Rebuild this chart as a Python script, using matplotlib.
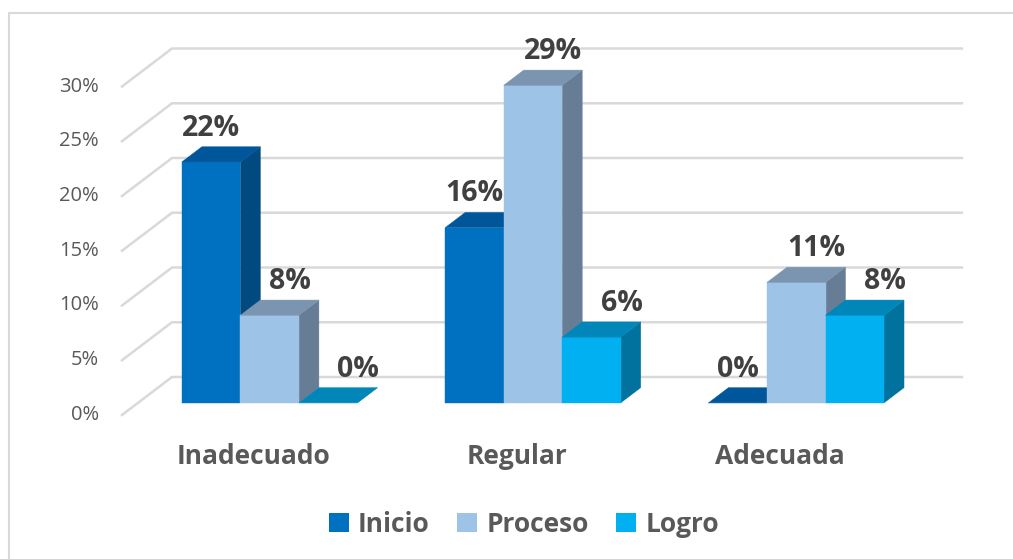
import matplotlib.pyplot as plt
from matplotlib.patches import Polygon, Rectangle

categorias = ['Inadecuado', 'Regular', 'Adecuada']
series = ['Inicio', 'Proceso', 'Logro']
inicio = [22, 16, 0]
proceso = [8, 29, 11]
logro = [0, 6, 8]
ticks = [0, 5, 10, 15, 20, 25, 30]

# colores por serie: frente, arriba, lado
colores = [('#0070C0', '#00569A', '#004A80'),
           ('#9DC3E6', '#7B95B1', '#677D96'),
           ('#00B0F0', '#0086B8', '#00729D')]
desplaz_etiqueta = [0.0, 1.0, 1.5]

W, H = 1013, 559
fig = plt.figure(figsize=(W / 100, H / 100), dpi=100)
ax = fig.add_axes([0, 0, 1, 1])
ax.axis('off')

# escala: 1 categoria = 263.3 px, 1% = 10.95 px, origen del piso frontal en (122, 415)
sx, sy = 263.3, 10.95
x0, y0 = 122, 415
ax.set_xlim(-x0 / sx, (W - x0) / sx)
ax.set_ylim(-(H - y0) / sy, y0 / sy)

DX, DY = 50 / sx, 38 / sy      # profundidad total del piso
d0, d1 = 0.32, 0.72            # profundidad de las barras
bw = 2 / 9                     # ancho de barra
gris = '#D9D9D9'

# borde del grafico
fig.add_artist(Rectangle((9 / W, -0.1), 1.2, 1.1 - 13 / H, transform=fig.transFigure,
                         fill=False, ec=gris, lw=1.5))

# lineas de division (pared y piso)
n = len(categorias)
for t in ticks:
    ax.plot([0, DX, n + DX], [t, t + DY, t + DY], color=gris, lw=1.8, zorder=1)
    ax.text(-23 / sx, t, f'{t}%', ha='right', va='center', fontsize=14.5,
            family='Open Sans', color='#595959')


def barra(xl, v, cols):
    fx, fy = d0 * DX, d0 * DY
    bx, by = d1 * DX, d1 * DY
    frente = [(xl + fx, fy), (xl + bw + fx, fy), (xl + bw + fx, v + fy), (xl + fx, v + fy)]
    arriba = [(xl + fx, v + fy), (xl + bw + fx, v + fy), (xl + bw + bx, v + by), (xl + bx, v + by)]
    lado = [(xl + bw + fx, fy), (xl + bw + bx, by), (xl + bw + bx, v + by), (xl + bw + fx, v + fy)]
    for pts, c in zip([lado, frente, arriba], [cols[2], cols[0], cols[1]]):
        ax.add_patch(Polygon(pts, closed=True, fc=c, ec=c, lw=0.3, zorder=2))


valores = [inicio, proceso, logro]
for c in range(n):
    for i, vals in enumerate(valores):
        xl = c + 1 / 6 + i * bw
        barra(xl, vals[c], colores[i])
        xc = xl + bw / 2 + d0 * DX + desplaz_etiqueta[i] * (d1 - d0) * DX
        ax.text(xc, vals[c] + d1 * DY + 4 / sy, f'{vals[c]}%', ha='center', va='bottom',
                fontsize=20.5, fontweight='bold', family='Open Sans', color='#404040', zorder=3)
    ax.text(c + 0.5, -42 / sy, categorias[c], ha='center', va='center', fontsize=19,
            fontweight='bold', family='Open Sans', color='#595959')

handles = [Rectangle((0, 0), 1, 1, fc=col[0], ec='none') for col in colores]
fig.legend(handles, series, loc='center', bbox_to_anchor=(524 / W, 1 - 524 / H), ncol=3,
           frameon=False, prop=dict(family='Open Sans', weight='bold', size=19),
           labelcolor='#595959', handlelength=0.75, handleheight=0.75,
           handletextpad=0.35, columnspacing=1.05)

fig.savefig('out.png', dpi=100)
